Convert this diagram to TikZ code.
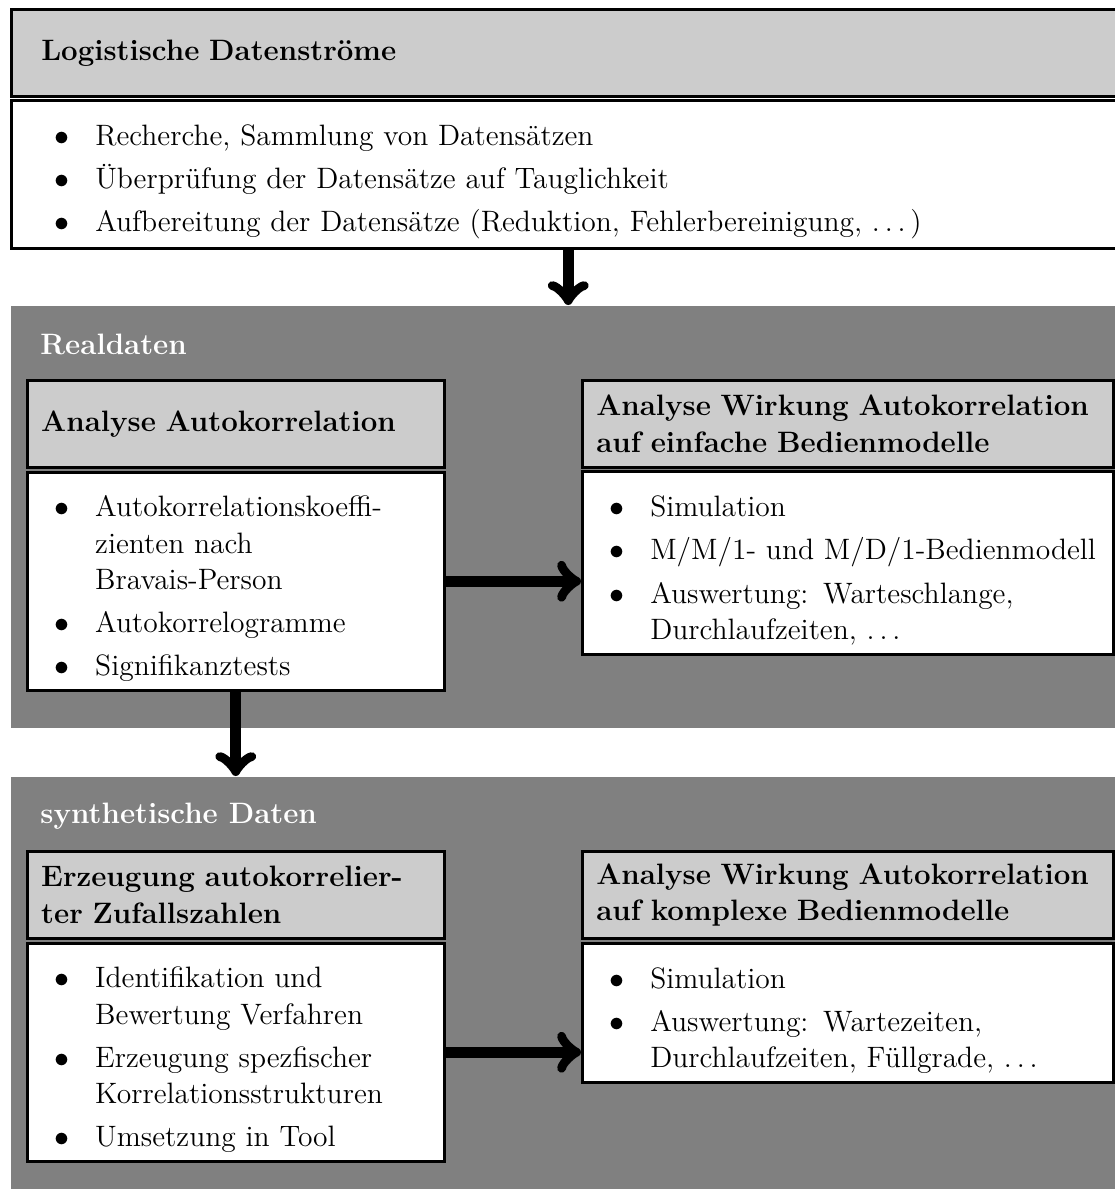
\documentclass[tikz,border=0pt,12pt]{standalone}
\usepackage{enumitem}
\setlist[itemize]{label=$\bullet$, leftmargin=21.6pt, labelsep=10.4pt, itemsep=2.8pt, topsep=0pt, parsep=0pt, partopsep=0pt}
\newcommand{\punkte}{.\kern\fontdimen3\font.\kern\fontdimen3\font.\kern\fontdimen3\font}
\newcommand{\grund}{\fontsize{11.8pt}{14.5pt}\selectfont}

\begin{document}
\begin{tikzpicture}[x=0.4pt, y=-0.4pt,
  kopf/.style={draw, line width=1pt, fill=gray!40, font=\grund\bfseries, anchor=north west,
    inner xsep=5.6pt, inner ysep=0pt, align=left, minimum height=34.8pt},
  inhalt/.style={draw, line width=1pt, fill=white, font=\grund, anchor=north west,
    inner xsep=5.6pt, inner ysep=0pt, align=left},
  bereich/.style={fill=gray, anchor=north west, inner sep=0pt, minimum width=445.6pt},
  titel/.style={anchor=base west, font=\grund\bfseries, text=white, inner sep=0pt},
  pfeil/.style={->, line width=4.4pt}]
  \useasboundingbox (0,0) rectangle (1115,1189);

  % Datenstroeme
  \node[kopf, inner xsep=12pt, text width=421.6pt] (daten-kopf) at (10,8) {Logistische Datenströme};
  \node[inhalt, inner xsep=12pt, text width=421.6pt, minimum height=59.2pt] (daten-inhalt) at (10,99) {%
    \begin{itemize}
      \item Recherche, Sammlung von Datensätzen
      \item Überprüfung der Datensätze auf Tauglichkeit
      \item Aufbereitung der Datensätze (Reduktion, Fehlerbereinigung, \punkte)
    \end{itemize}};

  % Realdaten
  \node[bereich, minimum height=168.8pt] (real) at (10,305) {};
  \node[titel] (real-titel) at (40,354) {Realdaten};
  \node[kopf, text width=155.6pt] (ana-kopf) at (26,379) {Analyse Autokorrelation};
  \node[inhalt, text width=155.6pt, minimum height=87.2pt] (ana-inhalt) at (26,471) {%
    \begin{itemize}
      \item Autokorrelationskoeffi-\\zienten nach\\Bravais-Person
      \item Autokorrelogramme
      \item Signifikanztests
    \end{itemize}};
  \node[kopf, text width=201.2pt] (einf-kopf) at (581,379) {Analyse Wirkung Autokorrelation\\auf einfache Bedienmodelle};
  \node[inhalt, text width=201.2pt, minimum height=73.2pt] (einf-inhalt) at (581,470) {%
    \begin{itemize}
      \item Simulation
      \item \makebox[\linewidth][l]{M/M/1- und M/D/1-Bedienmodell}
      \item Auswertung: Warteschlange,\\Durchlaufzeiten, \punkte
    \end{itemize}};

  % synthetische Daten
  \node[bereich, minimum height=170pt] (synth) at (10,776) {};
  \node[titel] (synth-titel) at (40,823) {synthetische Daten};
  \node[kopf, text width=155.6pt] (erz-kopf) at (26,850) {Erzeugung autokorrelier-\\ter Zufallszahlen};
  \node[inhalt, text width=155.6pt, minimum height=87.2pt] (erz-inhalt) at (26,942) {%
    \begin{itemize}
      \item Identifikation und\\Bewertung Verfahren
      \item Erzeugung spezfischer\\Korrelationsstrukturen
      \item Umsetzung in Tool
    \end{itemize}};
  \node[kopf, text width=201.2pt] (kompl-kopf) at (581,850) {Analyse Wirkung Autokorrelation\\auf komplexe Bedienmodelle};
  \node[inhalt, text width=201.2pt, minimum height=55.6pt] (kompl-inhalt) at (581,942) {%
    \begin{itemize}
      \item Simulation
      \item Auswertung: Wartezeiten,\\Durchlaufzeiten, Füllgrade, \punkte
    \end{itemize}};

  \draw[pfeil] (daten-inhalt.south) -- (daten-inhalt.south |- real.north);
  \draw[pfeil] (ana-inhalt.east) -- (ana-inhalt.east -| einf-inhalt.west);
  \draw[pfeil] (ana-inhalt.south) -- (ana-inhalt.south |- synth.north);
  \draw[pfeil] (erz-inhalt.east) -- (erz-inhalt.east -| kompl-inhalt.west);
\end{tikzpicture}
\end{document}
